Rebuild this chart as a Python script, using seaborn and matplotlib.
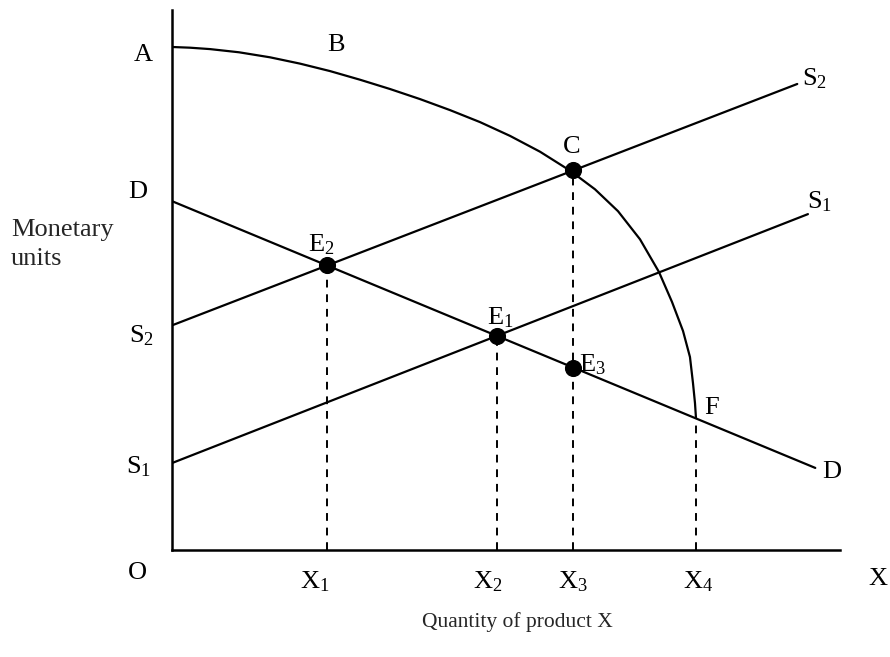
import matplotlib
matplotlib.use("Agg")
import matplotlib.pyplot as plt
import seaborn as sns

sns.set_theme(style="white")
plt.rcParams["font.family"] = ["Liberation Serif", "DejaVu Serif"]
plt.rcParams["mathtext.default"] = "regular"

# production possibility curve A - B - C - F
frontier_x = [0.000, 0.269, 0.569, 1.003, 1.467, 1.916, 2.365, 2.814, 3.263,
              3.713, 4.162, 4.611, 5.060, 5.509, 5.958, 6.332, 6.677, 7.006,
              7.290, 7.485, 7.650, 7.754, 7.799, 7.829, 7.844]
frontier_y = [9.315, 9.302, 9.276, 9.217, 9.124, 9.007, 8.869, 8.709, 8.537,
              8.350, 8.146, 7.924, 7.669, 7.376, 7.026, 6.680, 6.274, 5.754,
              5.148, 4.594, 4.056, 3.574, 3.093, 2.722, 2.444]

# demand and supply lines (end points)
demand_x = [0.0, 9.63]
demand_y = [6.46, 1.52]
s1_x = [0.0, 9.52]
s1_y = [1.61, 6.22]
s2_x = [0.0, 9.36]
s2_y = [4.16, 8.63]

# equilibrium points C, E2, E1, E3
point_x = [6.00, 2.32, 4.86, 6.00]
point_y = [7.03, 5.27, 3.97, 3.37]

# dashed drop lines to the quantity axis
drop_x = [2.32, 4.86, 6.00, 7.84]
drop_top = [5.27, 3.97, 7.03, 2.44]
drop_labels = ["X$_1$", "X$_2$", "X$_3$", "X$_4$"]
drop_label_x = [2.14, 4.73, 6.00, 7.88]

# letters on the diagram: text, x, y
labels = [
    ("A", -0.43, 9.17), ("B", 2.45, 9.35), ("C", 5.99, 7.47),
    ("D", -0.52, 6.63), ("E$_2$", 2.24, 5.66), ("E$_1$", 4.91, 4.30),
    ("E$_3$", 6.30, 3.44), ("F", 8.08, 2.63), ("S$_2$", -0.45, 3.96),
    ("S$_1$", -0.50, 1.55), ("D", 9.88, 1.44), ("S$_2$", 9.62, 8.72),
    ("S$_1$", 9.70, 6.45), ("O", -0.51, -0.43), ("X", 10.57, -0.54),
]

fig = plt.figure(figsize=(8.9, 6.57), dpi=100)
ax = fig.add_axes([172 / 890, 107 / 657, 668 / 890, 540 / 657])

sns.lineplot(x=frontier_x, y=frontier_y, color="black", lw=1.6, ax=ax, sort=False)
for lx, ly in [(demand_x, demand_y), (s1_x, s1_y), (s2_x, s2_y)]:
    sns.lineplot(x=lx, y=ly, color="black", lw=1.6, ax=ax)

for xv, top in zip(drop_x, drop_top):
    ax.plot([xv, xv], [0, top], color="black", lw=1.4, ls=(0, (4, 3.5)))

sns.scatterplot(x=point_x, y=point_y, color="black", s=130, edgecolor="black",
                zorder=5, ax=ax)

fs = 19
for txt, tx, ty in labels:
    ax.text(tx, ty, txt, fontsize=fs, ha="center", va="center", color="black")
for txt, tx in zip(drop_labels, drop_label_x):
    ax.text(tx, -0.59, txt, fontsize=fs, ha="center", va="center", color="black")

ax.text(-2.41, 5.93, "Monetary", fontsize=fs, ha="left", va="center")
ax.text(-2.41, 5.39, "units", fontsize=fs, ha="left", va="center")
ax.text(5.165, -1.33, "Quantity of product X", fontsize=15.5, ha="center", va="center")

ax.set_xlim(0, 10)
ax.set_ylim(0, 10)
ax.set_xticks([])
ax.set_yticks([])
sns.despine(ax=ax)
for side in ["left", "bottom"]:
    ax.spines[side].set_color("black")
    ax.spines[side].set_linewidth(1.8)

fig.savefig("out.png", dpi=100)
